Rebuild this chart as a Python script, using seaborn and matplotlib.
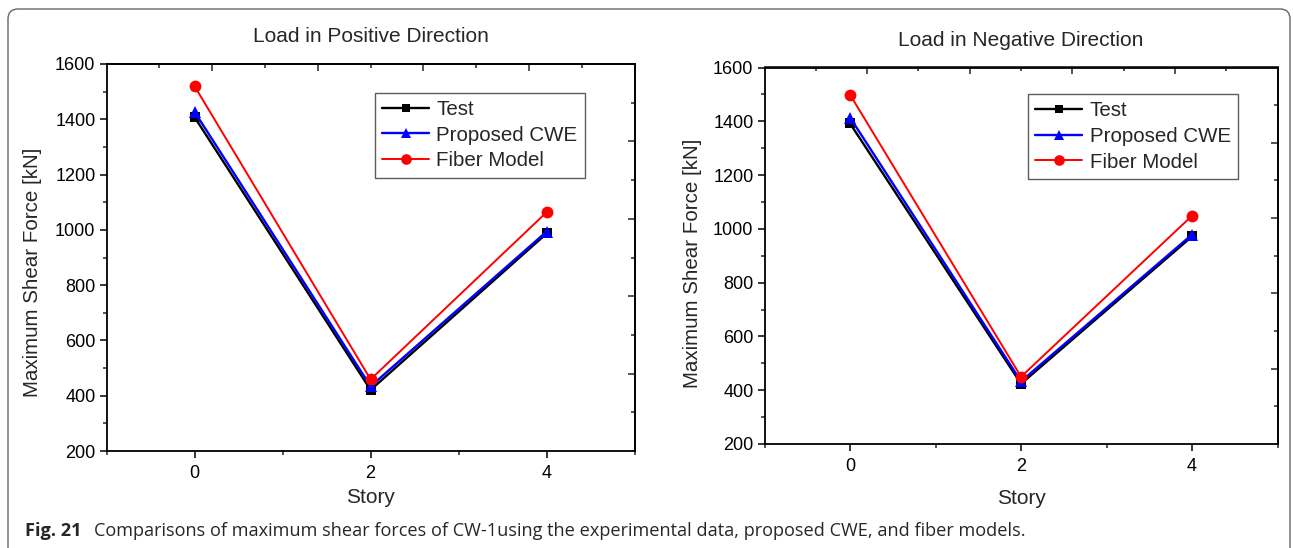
import matplotlib
matplotlib.use("Agg")
import matplotlib.pyplot as plt
import seaborn as sns
import pandas as pd
from matplotlib.patches import FancyBboxPatch
from matplotlib.ticker import MultipleLocator, FixedLocator, NullFormatter

# ---- data ----
story = [0, 2, 4]
series_names = ["Test", "Proposed CWE", "Fiber Model"]
pos_test = [1408, 421, 987]
pos_cwe = [1427, 434, 994]
pos_fiber = [1520, 459, 1064]
neg_test = [1392, 424, 972]
neg_cwe = [1414, 433, 979]
neg_fiber = [1499, 450, 1049]
yticks = [200, 400, 600, 800, 1000, 1200, 1400, 1600]
xticks = [0, 2, 4]

sns.set_style("white")
plt.rcParams["font.family"] = ["Liberation Sans", "DejaVu Sans"]

fig = plt.figure(figsize=(12.93, 5.48), dpi=100)
W, H = 1293, 548

def frac_axes(l, t, r, b):
    return fig.add_axes([l / W, 1 - b / H, (r - l) / W, (b - t) / H])

axL = frac_axes(106.5, 64, 634.7, 451)
axR = frac_axes(764.5, 67.5, 1277.6, 444)

styles = [
    dict(color="black", marker="s", ms=7, lw=1.7),
    dict(color="#0000ff", marker="^", ms=8.5, lw=1.7),
    dict(color="#ff0000", marker="o", ms=8.5, lw=1.4),
]

def draw(ax, vals, title, title_y, xl_y, yl_x, yl_y, leg_x, leg_y):
    for name, v, st in zip(series_names, vals, styles):
        df = pd.DataFrame({"Story": story, "Force": v})
        sns.lineplot(data=df, x="Story", y="Force", ax=ax, color=st["color"],
                     marker=st["marker"], markersize=st["ms"], linewidth=st["lw"],
                     markeredgewidth=0, markeredgecolor=st["color"], label=name)
    ax.set_xlim(-1, 5)
    ax.set_ylim(200, 1600)
    ax.set_xticks(xticks)
    ax.set_yticks(yticks)
    ax.xaxis.set_minor_locator(MultipleLocator(1))
    ax.yaxis.set_minor_locator(MultipleLocator(100))
    ax.tick_params(axis="both", which="major", direction="out", length=5, width=1.1,
                   labelsize=13, colors="black", pad=3)
    ax.tick_params(axis="x", which="major", pad=5)
    ax.tick_params(axis="both", which="minor", direction="out", length=3, width=1.1)
    ax.tick_params(bottom=True, left=True, which="both")
    for s in ax.spines.values():
        s.set_color("black")
        s.set_linewidth(1.3)
    ax.set_xlabel("Story", fontsize=15)
    ax.set_ylabel("Maximum Shear Force [kN]", fontsize=14.8)
    ax.xaxis.set_label_coords(0.5, xl_y)
    ax.yaxis.set_label_coords(yl_x, yl_y)
    ax.text(0.5, title_y, title, transform=ax.transAxes, ha="center", va="center",
            fontsize=15)
    # secondary top/right axes with 10 divisions, inward ticks
    sx = ax.secondary_xaxis("top", functions=(lambda x: (x + 1) / 0.6, lambda v: v * 0.6 - 1))
    sx.xaxis.set_major_locator(FixedLocator([2, 4, 6, 8]))
    sx.xaxis.set_minor_locator(FixedLocator([1, 3, 5, 7, 9]))
    sx.xaxis.set_major_formatter(NullFormatter())
    sx.tick_params(which="major", direction="in", length=5, width=1.1)
    sx.tick_params(which="minor", direction="in", length=3, width=1.1)
    sx.spines["top"].set_linewidth(1.3)
    sy = ax.secondary_yaxis("right", functions=(lambda y: (y - 200) / 140, lambda v: v * 140 + 200))
    sy.yaxis.set_major_locator(FixedLocator([2, 4, 6, 8]))
    sy.yaxis.set_minor_locator(FixedLocator([1, 3, 5, 7, 9]))
    sy.yaxis.set_major_formatter(NullFormatter())
    sy.tick_params(which="major", direction="in", length=5, width=1.1)
    sy.tick_params(which="minor", direction="in", length=3, width=1.1)
    sy.spines["right"].set_linewidth(1.3)
    leg = ax.legend(loc="upper left", bbox_to_anchor=(leg_x, leg_y), borderaxespad=0,
                    fontsize=14.8, frameon=True, fancybox=False, handlelength=2.3,
                    handletextpad=0.35, labelspacing=0.33, borderpad=0.35,
                    markerscale=0.9)
    leg.get_frame().set_edgecolor("#333333")
    leg.get_frame().set_linewidth(1.0)

draw(axL, [pos_test, pos_cwe, pos_fiber], "Load in Positive Direction",
     1.0705, -0.096, -0.1215, 0.4625, 0.508, 0.926)
draw(axR, [neg_test, neg_cwe, neg_fiber], "Load in Negative Direction",
     1.073, -0.12, -0.121, 0.48, 0.5135, 0.93)

# caption
cap_font = ["Open Sans", "DejaVu Sans"]
t1 = fig.text(25 / W, 1 - 536 / H, "Fig. 21", fontsize=13.1, fontweight="bold",
              family=cap_font, va="baseline")
plt.annotate("Comparisons of maximum shear forces of CW-1using the experimental data, "
             "proposed CWE, and fiber models.",
             xy=(1, 0), xycoords=t1, xytext=(9, 0), textcoords="offset points",
             fontsize=13.1, family=cap_font, va="bottom",
             annotation_clip=False)

# rounded border
fig.patches.append(FancyBboxPatch((8, -20), 1282, 559,
                                  boxstyle="round,pad=0,rounding_size=10",
                                  transform=None, facecolor="none",
                                  edgecolor="#666666", linewidth=1.0))

fig.savefig("out.png", dpi=100)
